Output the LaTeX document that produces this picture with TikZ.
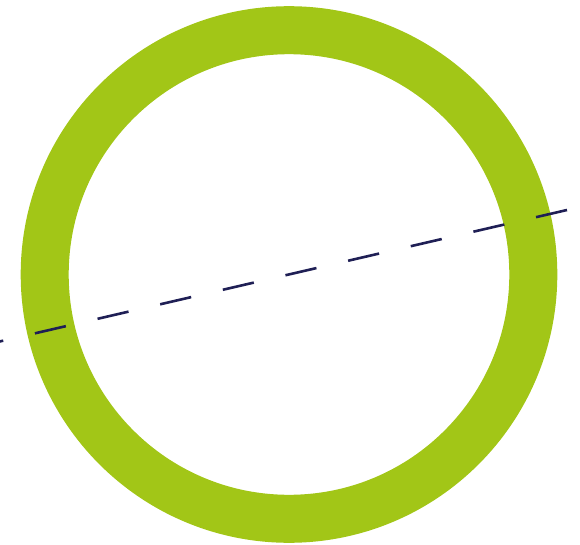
\documentclass[tikz,border=0pt]{standalone}
\usetikzlibrary{calc}

\definecolor{ringgreen}{HTML}{A2C617}
\definecolor{axisnavy}{HTML}{1F1F55}

\begin{document}
\begin{tikzpicture}[
    x=1pt,y=-1pt,
    ring/.style={draw=ringgreen,line width=48pt},
    axis/.style={draw=axisnavy,line width=2.6pt,dash pattern=on 31.8pt off 32.5pt},
]

\useasboundingbox (0,0) rectangle (580,545);

%----------------------------------
% Ring
%----------------------------------

\coordinate (rCenter) at (289,274.5);
\draw[ring] (rCenter) circle[radius=244.3];

%----------------------------------
% Dashed axis
%----------------------------------

\coordinate (aRight) at (567,210);
\coordinate (aLeft) at (-40,350.7);

\draw[axis] (aRight) -- (aLeft);

\end{tikzpicture}
\end{document}
